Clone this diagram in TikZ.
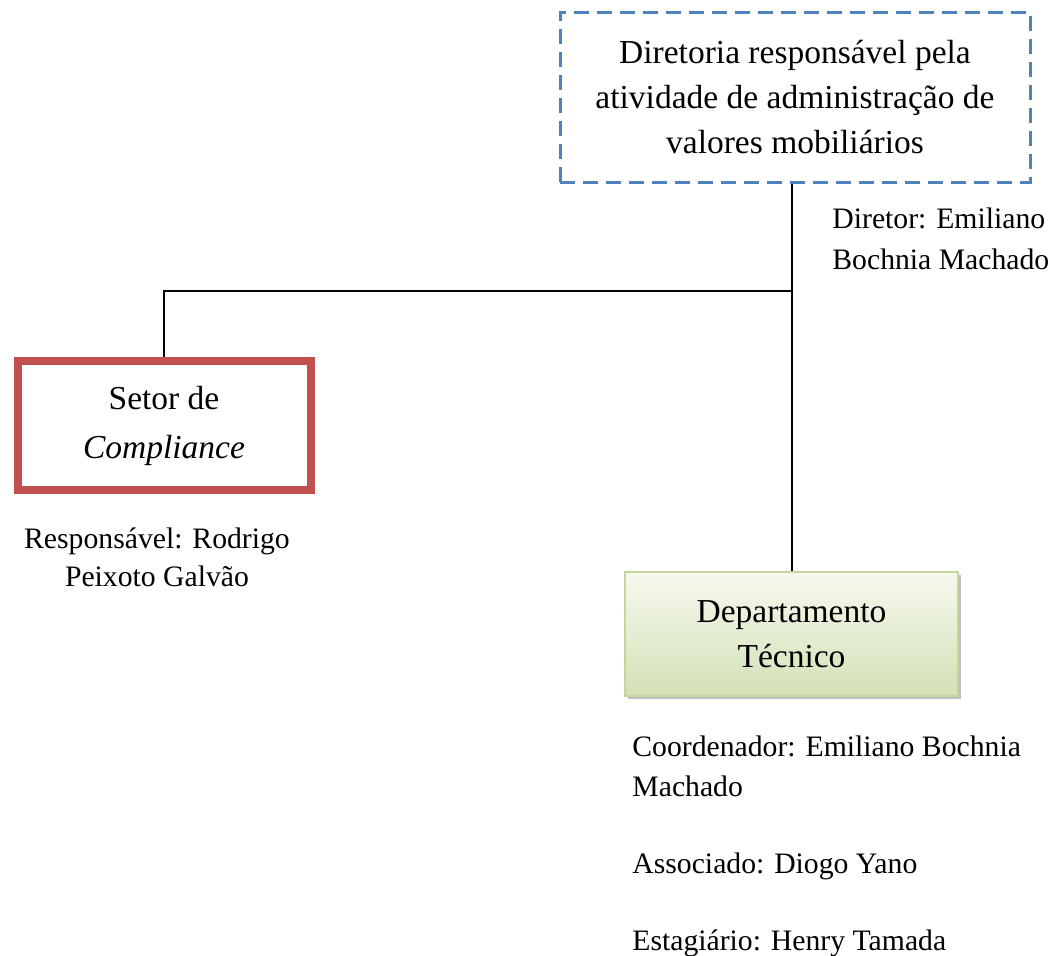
\documentclass[tikz,border=0pt]{standalone}
\usepackage{fontspec}
\setmainfont{Liberation Serif}
\usetikzlibrary{positioning,shadows}

\definecolor{dirblue}{HTML}{4F81BD}
\definecolor{compred}{HTML}{C0504D}
\definecolor{deptline}{HTML}{C3D69B}
\definecolor{depttop}{HTML}{F6F9EF}
\definecolor{deptbottom}{HTML}{D3E1B6}

\begin{document}
\begin{tikzpicture}
[x=0.5pt, y=-0.5pt,
    box/.style={rectangle, align=center, inner sep=0pt},
    dirbox/.style={box, draw=dirblue, line width=1.5pt,
    dash pattern=on 7.5pt off 4pt, minimum width=235pt, minimum height=85pt,
    font=\fontsize{16.75}{22.5}\selectfont},
    compbox/.style={box, draw=compred, line width=4pt,
    minimum width=146.5pt, minimum height=64.5pt,
    font=\fontsize{16.75}{24.5}\selectfont},
    deptbox/.style={box, draw=deptline, line width=1pt,
    top color=depttop, bottom color=deptbottom,
    drop shadow={shadow xshift=1.5pt, shadow yshift=-1.5pt, fill=black!50},
    minimum width=166.5pt, minimum height=62pt,
    font=\fontsize{16.75}{22.5}\selectfont},
    note/.style={inner sep=0pt, font=\fontsize{14.85}{20.5}\selectfont},
    link/.style={draw=black, line width=1pt},
    ]

    \useasboundingbox (0,0) rectangle (1053,955);

    \node[dirbox] (diretoria) at (795,97)
        {Diretoria responsável pela\\atividade de administração de\\valores mobiliários};
    \node[compbox] (setor) at (164,425.5) {\raisebox{-2.5pt}{Setor de}\\\raisebox{-2.5pt}{\textit{Compliance}}};
    \node[deptbox] (dept) at (791.5,634) {Departamento\\Técnico};

    \node[note, align=left, anchor=north west] (diretor) at (832,207)
        {Diretor: Emiliano\\Bochnia Machado};
    \node[note, align=center, anchor=north, font=\fontsize{14.85}{19}\selectfont]
        (responsavel) at (157,527) {Responsável: Rodrigo\\Peixoto Galvão};
    \node[note, align=left, anchor=north west, font=\fontsize{14.85}{20}\selectfont]
        (equipe) at (632,735)
        {Coordenador: Emiliano Bochnia\\Machado\\[18.5pt]
         Associado: Diogo Yano\\[18.5pt]Estagiário: Henry Tamada};

    \coordinate (hub) at (dept.north |- 0,291);

    \draw[link] (dept.north) -- (dept.north |- diretoria.south);
    \draw[link] (hub) -| (setor.north);

\end{tikzpicture}
\end{document}
